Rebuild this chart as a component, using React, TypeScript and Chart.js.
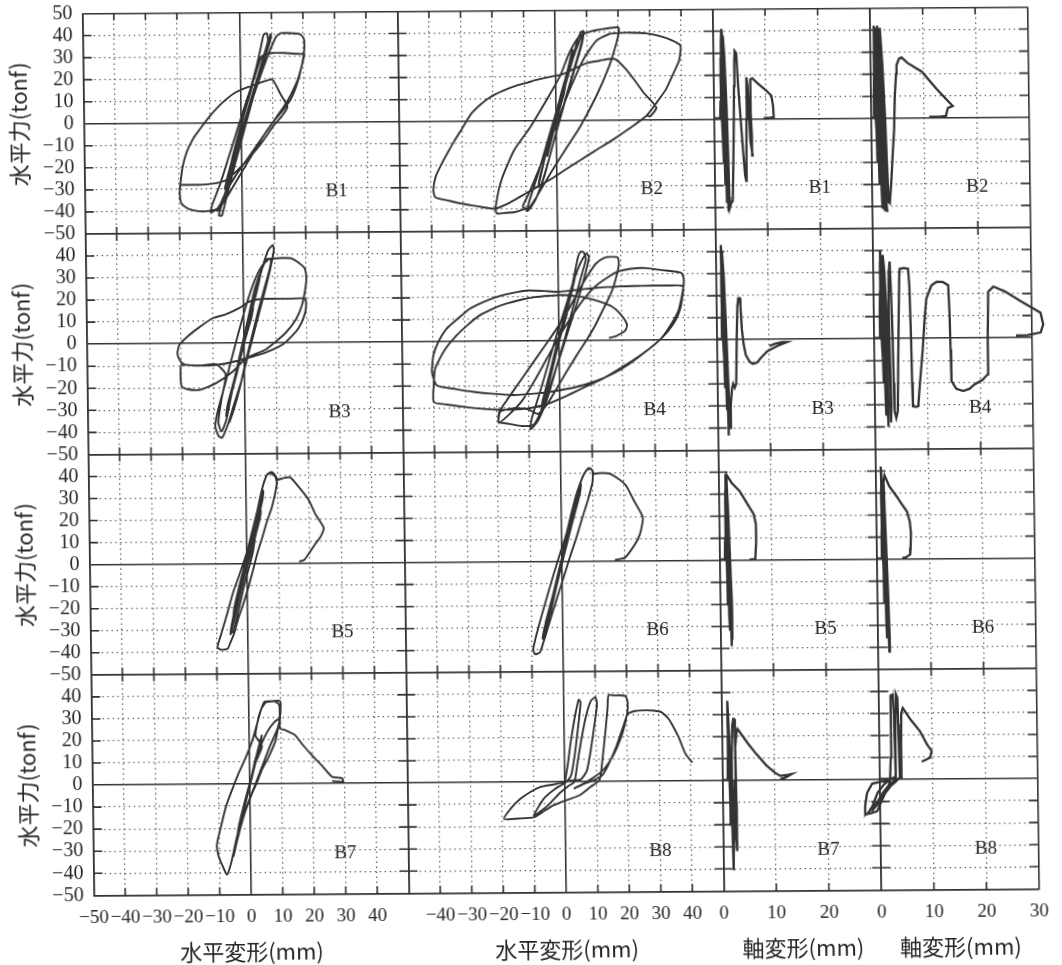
import React, { useEffect, useRef } from "react";
import { Chart, registerables } from "chart.js";

Chart.register(...registerables);

type P = [number, number];

// ---------- 水平力 (tonf) vs 水平変形 (mm) ----------
const B1_H: P[] = [
  [0,0],[2,10],[4,20],[3.5,16],[1,4],[-1.5,-9],[-3.5,-20],[-3,-16],[-0.5,-3],
  [2,9],[4.5,22],[6,30],[5,25],[2,10],[-1,-6],[-4,-22],[-5.5,-30],[-4.5,-24],[-1.5,-9],[1,4],
  [3,14],[5,25],[6.5,34],[7.5,40],[8.5,40.5],[8.8,37],[6.5,26],[3.5,12],[0.5,-2],[-2.5,-17],[-5,-30],[-6.5,-37],[-7.5,-42],[-6.5,-42],[-5,-34],[-2,-18],[1,-3],[3.5,10],[6,23],[8,33],[9.2,38],[9.8,40],[9.3,36],[7,26],[4,12],[1,-3],[-2,-18],[-5,-32],[-8,-39],[-10,-40.5],[-9.5,-37],[-7,-28],[-4,-15],[-1,-2],
  [2,11],[4.5,21],[6.8,30],[10,31.5],[14,31.5],[17,31.2],[19.5,31],[20.3,31],[19.5,26],[18,19],[16,13],[14,8],[11.5,3],[8.5,-3],[5,-10],[1.5,-17],[-2,-24],[-5,-31],[-7,-37],[-8,-40],
  [-6,-36],[-3.5,-24],[-1,-11],[1.5,1],[4,12],[7,24],[9.5,33],[11.5,39],[13,40.5],[16,40.5],[19,40],[20.2,38],[20.3,33],[19.5,26],[18,18],[16,11],[13,5],[10,0],[7,-6],[4,-13],[1,-20],[-2,-27],[-5,-34],[-8,-39],[-11,-40],[-14,-40],[-17,-39],[-19.3,-36.5],[-19.8,-32],[-19.6,-28],
  [-18.8,-20],[-17.4,-13],[-15.3,-7],[-13,-2.5],[-10,3],[-6,9],[-2,13.5],[2,16],[6,18],[10,19.5],[12.5,13],[14.7,7],[13,3],[10.5,-1],[7,-8],[3,-15],[-1,-21],[-5,-26],[-9,-27.5],[-14,-28],[-19.6,-28],
];

const B2_H: P[] = [
  [0,0],[1.5,8],[3,16],[2.5,12],[0,0],[-1.5,-8],[-3,-16],[-2.5,-12],[0,0],
  [2,12],[4,24],[5.5,32],[5,28],[2,14],[-1,-2],[-4,-18],[-6,-30],[-5.5,-26],[-2.5,-10],[0.5,4],
  [3,16],[5.5,28],[7,36],[8.2,40],[9,40.5],[8.5,36],[6,24],[3,10],[0,-5],[-3,-20],[-6,-33],[-8.5,-39.5],[-9.5,-40.5],[-9,-37],[-6,-24],[-3,-10],[0,4],[3,18],[6,30],[8,37],[9,40],[8.5,35],[5.5,21],[2.5,7],[-1,-10],[-4,-25],[-7,-36],[-9.5,-41],[-10,-40],
  [-13.5,-41.4],[-17,-41.8],[-19.3,-42],[-19.6,-39],[-17.7,-27],[-13.5,-13.3],[-8.2,-2.7],[-3,9.4],[1.3,20],[4.4,30.6],[7.6,38],[11.8,40.5],[16,41.5],[20,42],[20.2,40],[19.4,35],[17,24.5],[12.8,11],[7.6,-2.7],[3.4,-11.8],[-0.8,-21],[-4,-28.5],[-7.2,-36],[-9.3,-40],[-11,-39],[-9,-33],[-6,-23],[-2.5,-11],[1,2],[5,16],[9,28],[13,36],[17,39],[20,39.5],
  [24,39.6],[28.6,39.3],[33,38],[37,36],[39.7,33.6],[39.5,29],[39,26],[37,20],[35,14],[32,8],[28.6,1.8],[23,-4],[18,-8.8],[12,-14],[7.6,-17.9],[3,-22],[-0.8,-25.5],[-5,-29],[-10,-33],[-15,-37],[-19.8,-39.8],[-24,-39],[-27,-38.3],[-31,-37.2],[-34.5,-36],[-38.7,-34.5],[-39.3,-31],[-38.5,-25],[-36.6,-19.4],[-34.5,-14],[-32.4,-8.8],[-30,-3.5],[-27,3.3],[-24,7.5],[-20.8,10.9],[-17,13.5],[-13.5,15.5],[-9,17.3],[-6.1,18.5],[-2,19.8],[1.8,20.8],[6,23.5],[10,26],[14,27],[17,27.8],[19,27.6],[22,23.5],[25,18],[28,12],[31.8,5.6],[29.7,1.5],[28.5,2.3],
];

const B3_H: P[] = [
  [0,0],[1.5,8],[3,16],[2.5,12],[0,0],[-1.5,-8],[-3,-16],[-2.5,-12],[0,0],
  [2.5,14],[4.5,26],[5.5,32],[5,28],[2.5,14],[0,0],[-2.5,-14],[-5,-27],[-6,-33],[-5.5,-28],[-3,-15],[-0.5,0],
  [2,12],[4.5,26],[6.5,36],[8,42],[9.5,44.4],[9.8,42],[8.5,33],[6.5,22],[4,9],[1.5,-4],[-1,-17],[-3.5,-28],[-5.5,-37],[-7.4,-42.9],[-8.5,-42],[-9.5,-37.6],[-8.5,-30],[-6.5,-20],[-4,-7],[-1.5,6],[1,18],[3.5,28],[6,35],[8.5,38.3],[10,38.3],[12.5,38.5],[15.3,38.3],[17.5,36.5],[19.5,33.8],[20,29.3],[19.6,24],[18.5,17],[16.5,10.5],[13.2,4.5],[9.5,0],[6.8,-3],[3.5,-5],[0.5,-7],[-3.7,-12.8],[-9,-18],[-14.2,-21],[-18,-20.8],[-20,-19.5],[-20.3,-14],[-20,-9.8],[-16,-10],[-11,-10],[-6,-9.2],[-1,-7.5],[4.7,-5.3],[9,-3],[12.5,-0.5],[15.5,3.5],[17.4,6.8],[19,11.5],[19.8,16],[19.5,20],[15,20],[10,20],[5.8,20],[2,19],[-1.6,15.8],[-6,13],[-10,11.3],[-14,7.5],[-17.4,3.8],[-20.5,-0.5],[-21.2,-4.5],[-20.3,-8],[-19,-9.5],
  [-14,-10],[-9,-9.5],[-6,-14],[-7.5,-26],[-8.5,-36],[-7.5,-40],[-6,-35],[-4.5,-25],[-2.5,-12],[-0.5,0],[1.5,12],[3.5,24],[5.8,33],[7.5,38],[8.8,38],[8.5,34],[6.5,24],[4.5,14],[2.5,3],[0.5,-8],[-1.5,-20],[-3.5,-30],[-5,-36],
];

const B4_H: P[] = [
  [0,0],[1.5,8],[3,16],[2.5,12],[0,0],[-1.5,-8],[-3,-16],[-2.5,-12],[0,0],
  [2.5,13],[4.5,25],[5.5,31],[5,27],[2.5,13],[0,0],[-2.5,-14],[-5,-27],[-6,-32],[-5.5,-27],[-3,-14],[-0.5,0],
  [2,12],[4.5,26],[6.3,38],[7.2,40.5],[8.2,40],[8.8,37],[7,28],[4.5,15],[2,2],[-1,-12],[-4,-26],[-7,-36],[-9.5,-40],[-9,-35],[-6.5,-24],[-3.5,-10],[-0.5,4],[2.5,17],[5,28],[7,35],[9,39.5],[9.8,38],[8.5,30],[6,18],[3,5],[0,-8],[-3,-20],[-5.5,-30],[-8.4,-37.9],[-12,-38.5],[-16,-37.5],[-19.5,-36.5],[-19.3,-32],[-17,-27],[-13,-19],[-9,-11],[-5,-3],[-1,5],[3,14],[6.5,23],[9.5,30],[12,35],[14.5,37.5],[17,38],[19,37.5],[19.2,34],[18,27],[16.5,21],[14,14],[11.6,7.2],[9,1],[6.3,-4.8],[3.6,-10.8],[1,-16.8],[-1.6,-23],[-4.2,-28.9],[-7,-33],[-10,-31],[-14.7,-30.4],[-19,-31.9],[-19.5,-37],
  [-16,-33],[-12,-27],[-8,-18],[-4,-8],[0,2],[4,11],[8,19],[12,25],[16,29],[19,31.3],[23,32.5],[27.4,32.8],[33,31.8],[39,30.5],[39.8,27.5],[39.5,23],[38.8,18],[37.9,13.2],[35.5,7],[32.6,1.2],[28,-4.5],[22,-10.8],[17,-15],[11.6,-18.3],[5,-21],[-2.1,-22.8],[-8,-23.8],[-14.7,-24.4],[-21,-23.8],[-27.4,-22.8],[-33,-21.5],[-39,-19.8],[-40.5,-13.8],[-40,-6.3],[-38.5,-0.5],[-35.8,5.7],[-32,10.5],[-28.4,14.7],[-24,17.8],[-20,20],[-15,21.8],[-9.5,23],[-4.5,22.7],[0,22.3],[5,23],[10.5,23.8],[15,24.3],[19,24.5],[24,24.7],[29.5,24.8],[35,24.8],[39.5,24.5],[39.3,20],[38.5,14],[37,9],[34.5,4],[31,-1],[26,-6.5],[20,-12],[14,-17],[8,-21],[2,-25],[-4,-28.5],[-10,-30.5],[-15,-31],[-20,-31],[-25,-30.5],[-30.5,-29.6],[-36,-28.5],[-40,-27.4],[-40.2,-23],[-40,-19.8],[-39.5,-12.3],[-36.5,-4],[-32.6,2.7],[-29,7.5],[-25.3,11.7],[-21,14.8],[-16.8,17],[-12,18.8],[-7.4,20],[-3,20.5],[1,20.8],[5.5,20.3],[9.5,19.2],[13,17.7],[16.8,15.5],[19.5,12],[21.6,7.2],[21,4.5],[20,3.5],[18,2],[15.8,1.2],
];

const B5_H: P[] = [
  [0,0],[1.2,6],[2.2,11],[1.8,8],[0.2,0],[-1,-6],[-2,-11],[-1.7,-8],[0,0],
  [1.5,8],[3,16],[4,22],[4.6,24],[4.2,20],[2.5,11],[0.5,1],[-1.5,-9],[-3.3,-18],[-4.5,-24],[-4.2,-20],[-2.5,-10],[-0.5,0],
  [2,10],[3.5,20],[4.5,28],[5,31],[4.6,26],[2.5,14],[0.5,3],[-1.5,-8],[-3.5,-20],[-5,-29],[-5.5,-32],[-5,-27],[-3,-14],[-1,-2],[1,8],[3,20],[4.8,30],[5.5,33],[5.2,29],[3,16],[0.5,2],[-2,-12],[-4,-24],[-5.2,-31],[-4.6,-31],
  [-3,-22],[-1,-10],[1.9,5],[3.5,20],[5,33],[6.6,40],[7.7,41],[9.3,39.4],[9.8,36.4],[8.2,25.8],[6.5,19],[5,12],[3.3,4.5],[1.9,-3],[0.3,-11],[-1.3,-18.2],[-3,-25],[-4.4,-31.8],[-5.5,-35.5],[-6.5,-38.6],[-8.6,-39],[-9.7,-37.9],[-8.5,-32],[-6.5,-22.7],[-4.5,-13],[-2.3,-4.5],[0,5],[1.9,15.2],[3.5,24],[5,33.3],[6.6,40],[8.2,41.5],[9.5,39.5],[9.8,37.9],
  [11.5,38.5],[14,39],[16.5,35],[19.8,28.8],[22,22],[24.5,15.9],[23.5,12],[21.9,9],[20,5],[18.2,1.5],[16.6,0.8],
];

const B6_H: P[] = [
  [0,0],[1,6],[2,12],[1.6,9],[0,0],[-1,-6],[-2,-12],[-1.6,-9],[0,0],
  [1.5,8],[3,17],[4,24],[3.5,20],[1.5,8],[-0.5,-3],[-2.5,-15],[-4,-24],[-3.5,-19],[-1.5,-8],[0.5,3],
  [2.5,14],[4.5,26],[5.5,32],[5,28],[3,16],[0.5,2],[-2,-12],[-4.5,-26],[-6,-33],[-5.5,-28],[-3,-15],[-0.5,-1],
  [2,12],[4,24],[5.5,31],[6.3,35],[6,31],[3.5,18],[0.5,2],[-2.5,-14],[-5,-28],[-6.5,-35],[-6,-31],[-3.5,-18],[-1,-5],
  [1.6,13],[3.2,22],[4.7,29.8],[6,35],[7.4,39.7],[8.9,42.3],[10,41.2],[10,35.9],[8.5,28],[6.8,20.6],[4.7,11],[2.6,2.3],[0.5,-7],[-1.6,-16],[-3.2,-23],[-4.7,-29.8],[-6,-35.5],[-7.4,-41.2],[-9,-42],[-9.5,-39.7],[-8.2,-32],[-6.8,-25],[-4.7,-15],[-2.6,-5.3],[-0.5,4],[1.6,13],[3,21],[4.7,29.8],[6.5,37],[8,41],[9.5,42],[10.5,39.7],
  [13,40],[15.3,39.7],[18,37.5],[20.5,34.4],[23,27.5],[25.8,19.8],[25.2,14],[24.2,9.9],[22,5],[20,1.5],[16.8,0.5],
];

const B7_H: P[] = [
  [0,0],[1,6],[2,12],[1.5,8],[0,0],[-1,-6],[-2,-12],[-1.5,-8],[0,0],
  [1.5,9],[3,17],[4,22],[3.5,18],[1.5,8],[-0.5,-3],[-2.5,-14],[-4,-22],[-3.5,-18],[-1.5,-7],[0.5,3],
  [3,15],[5.5,23],[8,28],[9.8,29.5],[9,25],[6.5,17],[4,8],[1.5,-1],[-1,-10],[-3,-19],[-4.5,-27],[-5.5,-32.7],[-5,-30],[-3.5,-20],[-1.5,-9],[0.5,2],[2,10],[4,17],
  [2,22],[3,30],[4,34.2],[5,37.3],[7.5,37.5],[9.8,37.6],[10.1,35.8],[9.8,29.7],[9,24],[8.2,19],[6,12],[4,6.8],[2.5,1.5],[0.8,-3.8],[-1.2,-11],[-3.4,-19],[-4.5,-25],[-5.5,-31.2],[-6.3,-36],[-7.6,-41.1],[-9,-37],[-10.2,-32.7],[-10.7,-27.4],[-9.3,-19],[-7.6,-9.9],[-5.5,-2],[-3.4,5.3],[-1.2,12],[0.8,19],[2.5,27],[4,34.2],[5.5,37],[8,37.4],[9.6,36],[9.8,30],[9.8,25.1],
  [11.4,24.4],[14.5,22.1],[17,17.5],[19.8,12.9],[23,8],[26.1,3],[28,2.6],[29.3,2.3],[29.6,0.8],[26.1,1.1],
];

const B8_H: P[] = [
  [0,0],[1,8],[2,18],[3.5,30],[4.7,37.2],[5.3,36],[4.5,26],[3.2,12],[2,3],[0.5,0],[-3,-3],[-6.8,-7.6],[-10,-15.2],[-8,-13.5],[-5,-10],[-2,-5.5],[1,-2],[3,0],
  [4,8],[5.5,20],[7,30],[8.5,36.5],[10,38.3],[10.5,35],[9.5,25],[8.3,14],[7,5],[5,1],[1,0.5],[-3,-1],[-7.9,-2.3],[-11,-4.5],[-14.2,-7.6],[-17,-11.5],[-19.5,-16.7],[-15,-16.5],[-10,-16],[-6.5,-13],[-3.7,-10.6],[0,-8.5],[4.7,-6.1],[8,-2.5],[11,0.8],
  [12,10],[13,22],[13.8,33],[14.2,39.2],[16,39],[19.5,38.8],[20.2,36],[20,30.4],[18.5,24],[16.5,16],[14,8],[12,3],[9,0.5],[6,-1],[3,-3],[7,0],[12,5],[15.5,12],[18,20],[19.5,27],[20,30.4],
  [22.6,31.9],[25.8,32.2],[28.5,32],[31,31.2],[33,28.5],[34.2,25.8],[36.3,19.8],[38.4,12.2],[40.5,8.4],
];

// ---------- 水平力 (tonf) vs 軸変形 (mm) ----------
const B1_A: P[] = [
  [0,0.5],[1.2,0.5],[1.3,8],[1.4,18],[1.5,10],[1.6,0],[1.7,-12],[1.8,-20],[1.7,-10],[1.5,2],[1.35,20],[1.4,28],[1.6,18],[1.8,0],[1.95,-18],[2.05,-30],[1.95,-18],[1.7,0],[1.45,22],[1.5,35],[1.6,40],[1.8,30],[2.0,10],[2.15,-12],[2.25,-30],[2.35,-38],[2.25,-25],[1.95,-5],[1.7,15],[1.55,32],[1.65,41],[1.9,33],[2.15,12],[2.4,-12],[2.5,-30],[2.6,-42],[2.5,-33],[2.25,-12],[2.0,8],[1.85,26],[1.9,38],[2.15,28],[2.45,5],[2.65,-18],[2.75,-35],[2.85,-40],[3.1,-38],[3.4,-37],[3.6,-20],[3.8,0],[3.9,15],[4.0,25],[4.1,31],[4.4,30],[4.7,15],[5.1,0],[5.5,-15],[5.8,-25],[6.0,-28],[6.1,-20],[6.2,0],[6.25,12],[6.3,19],[6.5,15],[6.7,2],[6.9,-10],[7.3,-16.5],[7.2,-8],[7.0,4],[6.95,14],[7.1,18],[7.4,18.5],[8.5,16],[10,13],[11,10.5],[11.3,6],[11.4,0.8],[10.5,0.5],[9.5,0.5],
];

const B2_A: P[] = [
  [0,0.3],[0.4,0.3],[0.5,10],[0.6,20],[0.8,10],[0.9,0],[1.0,-12],[1.1,-20],[1.0,-10],[0.8,0],[0.6,18],[0.6,30],[0.8,20],[1.1,0],[1.3,-18],[1.4,-30],[1.3,-18],[1.0,0],[0.7,20],[0.6,36],[0.7,42],[1.0,32],[1.3,10],[1.6,-15],[1.8,-35],[1.9,-41],[1.8,-30],[1.5,-10],[1.1,15],[0.9,35],[1.0,41],[1.3,30],[1.7,5],[2.0,-20],[2.2,-38],[2.3,-42],[2.2,-28],[1.8,-5],[1.4,20],[1.2,38],[1.3,42],[1.7,28],[2.1,5],[2.4,-20],[2.6,-38],[2.8,-42],[2.7,-30],[2.3,-5],[1.9,20],[1.7,38],[1.8,41],[2.2,25],[2.6,0],[2.9,-25],[3.1,-38],[3.3,-38.5],[3.6,-30],[4.0,-15],[4.3,-5],[4.5,10],[4.8,20],[4.9,24],[5.4,27],[5.9,27.5],[7,25],[9.7,21],[12.5,13],[15.5,5.3],[14.6,4.5],[14.3,2],[14.2,0.8],[13,0.5],[11,0.5],
];

const B3_A: P[] = [
  [0,0.3],[0.9,0.3],[1.0,10],[1.1,20],[1.2,10],[1.3,0],[1.4,-12],[1.5,-22],[1.4,-10],[1.2,0],[1.0,20],[1.0,32],[1.2,22],[1.5,0],[1.7,-20],[1.8,-32],[1.7,-20],[1.4,0],[1.1,22],[1.0,38],[1.0,43],[1.3,32],[1.6,10],[1.9,-15],[2.0,-35],[2.0,-43.5],[2.1,-38],[1.9,-15],[1.5,10],[1.2,30],[1.2,40],[1.5,28],[1.8,5],[2.1,-20],[2.3,-35],[2.4,-40],[2.5,-30],[2.8,-22],[3.0,-20],[3.3,-21.8],[3.6,-20],[3.8,0],[4.0,15],[4.2,18.8],[4.5,18.8],[4.6,15],[4.8,5],[5.1,-2],[5.5,-7],[6.2,-10],[6.8,-11],[7.6,-10.5],[8.5,-8],[9.6,-5.3],[11.5,-3],[13.4,-1.2],[12.5,-1.2],[11,-2],[10,-3],
];

const B4_A: P[] = [
  [0,0.3],[1.0,0.3],[1.1,12],[1.2,22],[1.4,10],[1.6,-5],[1.7,-20],[1.6,-10],[1.3,5],[1.2,25],[1.3,35],[1.5,20],[1.8,0],[2.0,-25],[2.1,-35],[2.0,-20],[1.6,5],[1.3,30],[1.3,40],[1.6,28],[2.0,5],[2.3,-25],[2.5,-40],[2.5,-30],[2.2,-5],[1.9,20],[1.8,38],[2.1,30],[2.5,5],[2.9,-25],[3.0,-38],[3.1,-30],[2.9,-5],[2.8,15],[2.9,30],[3.1,35],[3.3,20],[3.5,0],[3.6,-20],[3.7,-33],[4.0,-36],[4.3,-33],[4.5,-10],[4.7,10],[4.9,28],[5.0,31.6],[5.8,32],[6.6,31.6],[6.8,24],[7.0,0],[7.1,-20],[7.2,-30.8],[7.7,-31],[8.2,-30.8],[8.6,-20],[9.2,-5],[9.6,8],[10,18],[11,24],[12,25.6],[13.2,25.5],[14.2,24],[14.4,10],[14.5,-5],[14.6,-19.5],[15.5,-23],[16.8,-24],[18,-23],[19,-21],[20.5,-19],[21.5,-16.5],[21.6,0],[21.8,21],[22.8,23.3],[25,21],[28,16.5],[31.7,11.3],[32.2,6],[31.7,2.3],[29.2,1.2],[27,1],
];

const B5_A: P[] = [
  [0,0.3],[1.0,0.3],[1.1,10],[1.2,20],[1.3,10],[1.4,-5],[1.5,-20],[1.45,-10],[1.3,5],[1.2,25],[1.25,32],[1.4,20],[1.6,0],[1.7,-25],[1.8,-32],[1.7,-20],[1.5,0],[1.3,25],[1.3,39],[1.5,30],[1.8,5],[2.0,-25],[2.1,-39],[2.2,-30],[2.0,-5],[1.7,20],[1.5,36],[1.7,25],[2.0,0],[2.2,-20],[2.3,-36],[2.2,-20],[1.9,5],[1.6,25],[1.5,38.8],[2.5,35],[4,31.3],[5.3,26],[6.6,20.8],[7,16.2],[7,8],[6.8,0.5],[5.7,0.2],
];

const B6_A: P[] = [
  [0,0.3],[0.8,0.3],[0.9,10],[1.0,20],[1.1,10],[1.2,-5],[1.3,-20],[1.2,-8],[1.0,10],[0.9,30],[1.0,36],[1.2,20],[1.4,0],[1.6,-28],[1.7,-36],[1.6,-20],[1.3,5],[1.0,30],[0.9,42],[1.2,30],[1.6,5],[1.9,-25],[2.1,-42],[2.2,-35],[1.9,-10],[1.6,15],[1.3,35],[1.5,25],[1.8,0],[2.0,-25],[2.2,-38],[2.0,-15],[1.7,10],[1.4,35],[1.6,38],[2.5,33],[3.9,28.3],[4.8,25],[5.8,21.5],[6.3,17],[6.5,11.7],[6.4,5],[6.3,2],[5.5,0.8],[4.8,0.5],
];

const B7_A: P[] = [
  [0,0.3],[1.0,0.3],[1.05,10],[1.1,20],[1.25,10],[1.4,-5],[1.5,-20],[1.45,-10],[1.3,5],[1.1,25],[1.1,36.2],[1.3,25],[1.6,0],[1.8,-25],[1.9,-35],[1.95,-40.7],[2.0,-30],[1.9,-10],[1.8,10],[2.0,25],[2.2,28],[2.4,27.9],[2.5,15],[2.6,-10],[2.7,-25],[2.6,-32],[2.4,-20],[2.3,0],[2.1,-15],[2.0,-32],[2.2,-20],[2.4,0],[2.5,15],[2.8,22],[3,23.4],[4,20],[5,16.6],[6.5,12],[8.4,6.8],[10,3.5],[11,2],[12.5,2.5],[13.2,2.8],[12,1.2],[11,0.5],
];

const B8_A: P[] = [
  [0,0.3],[1.5,0.3],[1.9,0],[1.5,-0.5],[0,-1],[-1.5,-1.8],[-2.5,-6],[-2.9,-12],[-2.9,-15.8],[-1.8,-15.2],[-0.6,-14.3],[0.2,-10],[1.2,-5],[1.9,-1],[2.1,10],[2.2,25],[2.2,38],[2.6,38.5],[2.8,30],[2.9,15],[3.0,2],[2.5,-1],[1.5,-3],[0.5,-6],[-0.5,-10],[-1.5,-13],[-2.2,-14.5],[-1.5,-12],[-0.5,-6],[0.8,-2],[2.2,0.5],[2.9,1],[3.0,15],[3.1,30],[3.2,38.8],[3.5,37],[3.6,25],[3.7,10],[3.8,1],[3.0,-1],[2,-3],[1,-6],[0,-10],[-1,-12.5],[0,-8],[1.3,-4],[2.5,-1],[3.6,0.5],[4.0,1],[4.1,15],[4.2,30],[4.5,32.4],[6,27],[7.7,21.9],[9,16],[9.9,12.8],[9.6,9.8],[8,8],
];

// ---------- layout of panels / axis definitions ----------
const PANEL_NAMES = [
  ["B1", "B2", "B1", "B2"],
  ["B3", "B4", "B3", "B4"],
  ["B5", "B6", "B5", "B6"],
  ["B7", "B8", "B7", "B8"],
];
const PANEL_DATA: P[][][] = [
  [B1_H, B2_H, B1_A, B2_A],
  [B3_H, B4_H, B3_A, B4_A],
  [B5_H, B6_H, B5_A, B6_A],
  [B7_H, B8_H, B7_A, B8_A],
];
const LABEL_AT_H: P = [30, -31.5];
const LABEL_AT_A: P = [20, -31.5];

const X_MIN = [-50, -50, 0, 0];
const X_MAX = [50, 50, 30, 30];
const X_HIDDEN: number[][] = [[50], [-50, 50], [30], []];
const X_TITLES = ["水平変形(mm)", "水平変形(mm)", "軸変形(mm)", "軸変形(mm)"];
const Y_MIN = -50;
const Y_MAX = 50;
const TICK_STEP = 10;
const Y_TITLE = "水平力(tonf)";

const LINE_C = "#333333";
const GRID_C = "#666666";
const TEXT_C = "#262626";
const SERIF = "'Liberation Serif', 'Times New Roman', serif";
const CJK = "'Noto Sans CJK JP', 'Noto Sans', sans-serif";

const fmt = (v: number) => (v < 0 ? "\u2212" + Math.abs(v) : String(v));

function gridStyle(solidVals: number[]) {
  const solid = (c: any) => {
    const v = c && c.tick ? c.tick.value : undefined;
    return v === undefined || solidVals.includes(v);
  };
  return {
    grid: {
      drawTicks: false,
      color: (c: any) => (solid(c) ? LINE_C : GRID_C),
      lineWidth: (c: any) => (solid(c) ? 1.6 : 1.3),
    },
    border: {
      display: true,
      color: LINE_C,
      width: 1.6,
      dash: (c: any) => (solid(c) ? [] : [1.5, 3.5]),
    },
  };
}

const decor = {
  id: "decor",
  beforeDatasetsDraw(chart: any) {
    const { ctx } = chart;
    const xs = [1, 2, 3, 4].map((i) => chart.scales["x" + i]);
    const ys = [1, 2, 3, 4].map((i) => chart.scales["y" + i]);
    ctx.save();
    ctx.strokeStyle = LINE_C;
    ctx.lineWidth = 1.6;
    ctx.beginPath();
    const colX = [xs[0].left, xs[1].left, xs[2].left, xs[3].left, xs[3].right];
    ys.forEach((s: any) => {
      for (let v = Y_MIN + TICK_STEP; v < Y_MAX; v += TICK_STEP) {
        if (v === 0) continue;
        const py = s.getPixelForValue(v);
        colX.forEach((cx, i) => {
          const a = i === 0 ? 0 : 9;
          const b = i === colX.length - 1 ? 0 : 9;
          ctx.moveTo(cx - a, py);
          ctx.lineTo(cx + b, py);
        });
      }
    });
    const rowY = [ys[0].top, ys[1].top, ys[2].top, ys[3].top, ys[3].bottom];
    xs.forEach((s: any, k: number) => {
      for (let v = X_MIN[k] + TICK_STEP; v < X_MAX[k]; v += TICK_STEP) {
        if (v === 0) continue;
        const px = s.getPixelForValue(v);
        rowY.forEach((ry, i) => {
          const a = i === 0 ? 0 : 7;
          const b = i === rowY.length - 1 ? 0 : 7;
          ctx.moveTo(px, ry - a);
          ctx.lineTo(px, ry + b);
        });
      }
    });
    ctx.stroke();
    ctx.restore();
  },
  afterDatasetsDraw(chart: any) {
    const { ctx } = chart;
    ctx.save();
    ctx.fillStyle = TEXT_C;
    ctx.font = `19px ${SERIF}`;
    ctx.textAlign = "center";
    ctx.textBaseline = "middle";
    PANEL_NAMES.forEach((row, r) => {
      row.forEach((name, c) => {
        const at = c < 2 ? LABEL_AT_H : LABEL_AT_A;
        const px = chart.scales["x" + (c + 1)].getPixelForValue(at[0]);
        const py = chart.scales["y" + (r + 1)].getPixelForValue(at[1]);
        ctx.fillText(name, px, py);
      });
    });
    ctx.restore();
  },
};

export default function App() {
  const ref = useRef<HTMLCanvasElement | null>(null);

  useEffect(() => {
    if (!ref.current) return;
    const scales: any = {};
    for (let c = 0; c < 4; c++) {
      scales["x" + (c + 1)] = {
        type: "linear",
        position: "bottom",
        stack: "cols",
        stackWeight: c < 2 ? 2 : 1,
        min: X_MIN[c],
        max: X_MAX[c],
        afterFit: (s: any) => {
          s.height = 72.7;
          s.paddingLeft = 0;
          s.paddingRight = 0;
        },
        ticks: {
          stepSize: TICK_STEP,
          autoSkip: false,
          maxRotation: 0,
          minRotation: 0,
          padding: 13,
          color: TEXT_C,
          font: { family: SERIF, size: 19, lineHeight: 1 },
          callback: (v: number) => (X_HIDDEN[c].includes(v) ? "" : fmt(v)),
        },
        title: {
          display: true,
          text: X_TITLES[c],
          color: TEXT_C,
          font: { family: CJK, size: 22, lineHeight: 1.2 },
          padding: { top: 0, bottom: 2 },
        },
        ...gridStyle(c < 2 ? [-50, 0, 50] : [0, 30]),
      };
    }
    for (let r = 0; r < 4; r++) {
      scales["y" + (r + 1)] = {
        type: "linear",
        position: "left",
        stack: "rows",
        stackWeight: 1,
        weight: 4 - r,
        min: Y_MIN,
        max: Y_MAX,
        afterFit: (s: any) => {
          s.width = 88.4;
          s.paddingTop = 0;
          s.paddingBottom = 0;
        },
        ticks: {
          stepSize: TICK_STEP,
          autoSkip: false,
          padding: 10,
          color: TEXT_C,
          font: { family: SERIF, size: 20, lineHeight: 1 },
          callback: (v: number) => (r > 0 && v === Y_MAX ? "" : fmt(v)),
        },
        title: {
          display: true,
          text: Y_TITLE,
          color: TEXT_C,
          font: { family: CJK, size: 22, lineHeight: 1.2 },
          padding: { top: 10, bottom: 0 },
        },
        ...gridStyle([-50, 0, 50]),
      };
    }

    const datasets: any[] = [];
    PANEL_DATA.forEach((row, r) => {
      row.forEach((pts, c) => {
        datasets.push({
          label: PANEL_NAMES[r][c] + (c < 2 ? " 水平" : " 軸"),
          data: pts.map(([x, y]) => ({ x, y })),
          xAxisID: "x" + (c + 1),
          yAxisID: "y" + (r + 1),
          showLine: true,
          borderColor: LINE_C,
          borderWidth: c < 2 ? 1.9 : 2.3,
          pointRadius: 0,
          pointHoverRadius: 0,
          tension: c < 2 ? 0.2 : 0,
          clip: false,
        });
      });
    });

    const chart = new Chart(ref.current, {
      type: "scatter",
      data: { datasets },
      options: {
        responsive: false,
        animation: false,
        devicePixelRatio: 1,
        layout: { padding: { left: 0, top: 10.5, right: 28.3, bottom: 0 } },
        plugins: { legend: { display: false }, tooltip: { enabled: false } },
        events: [],
        scales,
      },
      plugins: [decor],
    } as any);
    return () => chart.destroy();
  }, []);

  return (
    <div
      style={{
        position: "fixed",
        left: 0,
        top: 0,
        width: 1062,
        height: 965,
        background: "#fff",
        transform: "matrix(1,-0.007,0.013,1,0,0)",
        transformOrigin: "531px 482px",
      }}
    >
      <canvas ref={ref} width={1062} height={965} style={{ display: "block", width: 1062, height: 965 }} />
    </div>
  );
}
